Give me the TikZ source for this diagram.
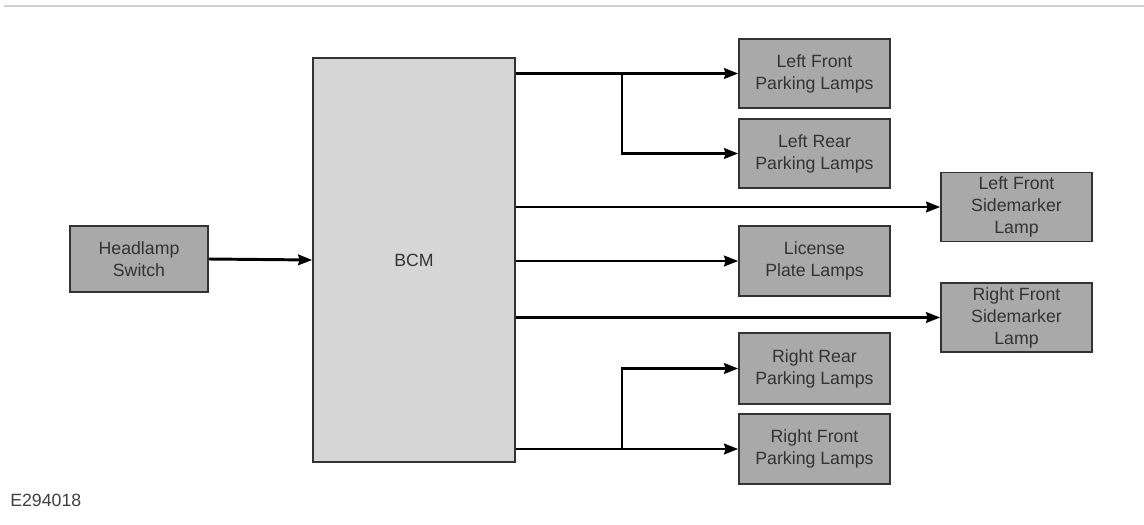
\documentclass[tikz,border=0pt]{standalone}
\usepackage{fontspec}
\setmainfont{Liberation Sans}
\usepackage{tikz}
\usetikzlibrary{arrows.meta, positioning, calc}

\definecolor{boxdark}{HTML}{A9A9A9}
\definecolor{boxlight}{HTML}{D6D6D6}
\definecolor{edgegray}{HTML}{333333}
\definecolor{rulegray}{HTML}{D0D0D0}

\begin{document}
\begin{tikzpicture}[
        x=0.025cm, y=-0.025cm,
        font=\fontsize{12.6}{15.6}\selectfont,
        lamp/.style = {rectangle, draw=edgegray, fill=boxdark, line width=1.1pt, text=black!80, align=center, minimum width=151*0.025cm, minimum height=69*0.025cm, inner sep=0pt},
        module/.style = {rectangle, draw=edgegray, fill=boxlight, line width=1.1pt, text=black!80, minimum width=202*0.025cm, minimum height=404*0.025cm},
        feed/.style = {draw=black, line width=2.1pt, -{Stealth[length=10pt, width=7.5pt, inset=1pt]}},
        branch/.style = {draw=black, line width=2.1pt}
    ]

    % Frame
    \useasboundingbox (0,0) rectangle (1144,525);
    \draw [rulegray, line width=1.4pt] (4,6) -- (1144,6);

    % Input and module
    \node [lamp, minimum width=138*0.025cm, minimum height=66*0.025cm] (switch) at (139,259) {Headlamp\\Switch};
    \node [module] (bcm) at (414,260) {BCM};

    % Lamps
    \node [lamp] (lfpark) at (814.5,73.5) {Left Front\\Parking Lamps};
    \node [lamp] (lrpark) at (814.5,153.5) {Left Rear\\Parking Lamps};
    \node [lamp] (lfside) at (1016.5,207) {Left Front\\Sidemarker\\Lamp};
    \node [lamp, minimum height=70*0.025cm] (license) at (814.5,261) {License\\Plate Lamps};
    \node [lamp] (rfside) at (1016.5,317.5) {Right Front\\Sidemarker\\Lamp};
    \node [lamp, minimum height=71*0.025cm] (rrpark) at (814.5,368.5) {Right Rear\\Parking Lamps};
    \node [lamp, minimum height=70*0.025cm] (rfpark) at (814.5,449) {Right Front\\Parking Lamps};

    % Branch points
    \coordinate (jtop) at (622,73.5);
    \coordinate (jbot) at (622,449);

    % Connections
    \draw [feed] (switch.east) -- (bcm.west);
    \draw [feed] (bcm.east |- lfpark.west) -- (lfpark.west);
    \draw [feed] (jtop) |- (lrpark.west);
    \draw [feed] (bcm.east |- lfside.west) -- (lfside.west);
    \draw [feed] (bcm.east |- license.west) -- (license.west);
    \draw [feed] (bcm.east |- rfside.west) -- (rfside.west);
    \draw [feed] (jbot) |- (rrpark.west);
    \draw [feed] (bcm.east |- rfpark.west) -- (rfpark.west);

    % Figure number
    \node [anchor=west, text=black!75, inner sep=0pt] (fignum) at (10,500) {E294018};

\end{tikzpicture}
\end{document}
